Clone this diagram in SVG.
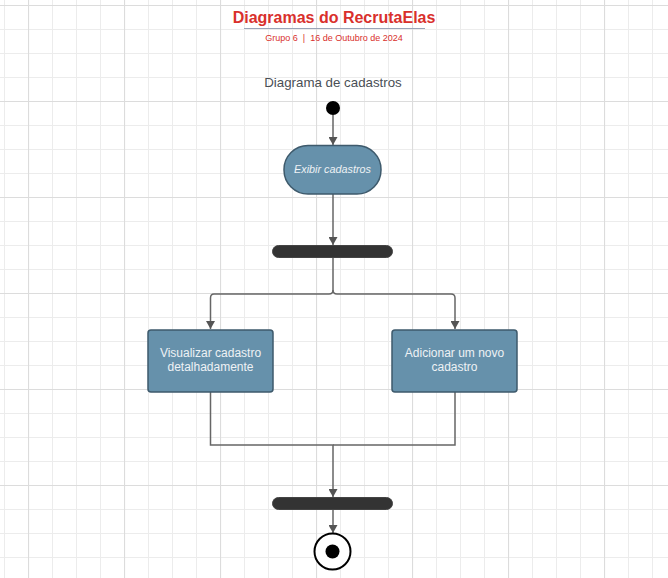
<svg xmlns="http://www.w3.org/2000/svg" width="668" height="578" viewBox="0 0 668 578">
<defs>
<pattern id="minor" width="24" height="24" patternUnits="userSpaceOnUse" x="4" y="5">
<path d="M0 0.5H24M0.5 0V24" fill="none" stroke="#ececec" stroke-width="1.1"/>
</pattern>
<pattern id="major" width="96" height="96" patternUnits="userSpaceOnUse" x="28" y="5">
<path d="M0 0.5H96M0.5 0V96" fill="none" stroke="#dcdcdc" stroke-width="1.2"/>
</pattern>
<marker id="arr" viewBox="0 0 10 10" refX="10" refY="5" markerWidth="8" markerHeight="9" markerUnits="userSpaceOnUse" orient="auto" preserveAspectRatio="none">
<path d="M0 0L10 5L0 10Z" fill="#555"/>
</marker>
<style>
.conn{fill:none;stroke:#666;stroke-width:1.5}
.act{fill:#6691ab;stroke:#3e5a6c;stroke-width:1.5}
.acttxt{font-family:"Liberation Sans",Arial,sans-serif;font-size:12px;fill:#eef2f5;text-anchor:middle}
.small{font-size:10.8px;font-style:italic}
.bar{fill:#333;stroke:#444;stroke-width:1}
</style>
</defs>
<rect width="668" height="578" fill="#fff"/>
<rect width="668" height="578" fill="url(#minor)"/>
<rect width="668" height="578" fill="url(#major)"/>

<g id="title">
<text x="334" y="23" text-anchor="middle" font-family="Liberation Sans,Arial,sans-serif" font-size="16" font-weight="bold" fill="#d9302c">Diagramas do RecrutaElas</text>
<line x1="244" y1="28.5" x2="425" y2="28.5" stroke="#9aa4b8" stroke-width="1"/>
<text x="334" y="41" text-anchor="middle" font-family="Liberation Sans,Arial,sans-serif" font-size="9" fill="#d9302c" xml:space="preserve">Grupo 6  |  16 de Outubro de 2024</text>
</g>
<g id="subtitle">
<text x="333" y="87" text-anchor="middle" font-family="Liberation Sans,Arial,sans-serif" font-size="13.3" fill="#4a4f55">Diagrama de cadastros</text>
</g>

<g id="connectors">
<path class="conn" d="M333 115V145" marker-end="url(#arr)"/>
<path class="conn" d="M333 194V245" marker-end="url(#arr)"/>
<path class="conn" d="M333 257V290Q333 294 329 294H214Q210.5 294 210.5 298V329" marker-end="url(#arr)"/>
<path class="conn" d="M333 290Q333 294 337 294H451Q455 294 455 298V329" marker-end="url(#arr)"/>
<path class="conn" d="M210.5 392V445H333V497" marker-end="url(#arr)"/>
<path class="conn" d="M455 392V445H333"/>
<path class="conn" d="M333 509V533" marker-end="url(#arr)"/>
</g>

<g id="start">
<circle cx="333" cy="108" r="7" fill="#000"/>
</g>
<g id="exibir">
<rect class="act" x="284" y="145.5" width="97" height="48.5" rx="24"/>
<text class="acttxt small" x="332.5" y="172.5">Exibir cadastros</text>
</g>
<g id="fork">
<rect class="bar" x="272.5" y="245.5" width="120" height="12" rx="6"/>
</g>
<g id="visualizar">
<rect class="act" x="148" y="330" width="125" height="62" rx="3"/>
<text class="acttxt" x="210.5" y="357">Visualizar cadastro</text>
<text class="acttxt" x="210.5" y="371">detalhadamente</text>
</g>
<g id="adicionar">
<rect class="act" x="392" y="330" width="125" height="62" rx="3"/>
<text class="acttxt" x="454.5" y="357">Adicionar um novo</text>
<text class="acttxt" x="454.5" y="371">cadastro</text>
</g>
<g id="join">
<rect class="bar" x="272.5" y="497.5" width="120" height="12" rx="6"/>
</g>
<g id="end">
<circle cx="332.5" cy="551.5" r="18" fill="#fff" stroke="#000" stroke-width="2"/>
<circle cx="332.5" cy="551.5" r="7" fill="#000"/>
</g>
</svg>
